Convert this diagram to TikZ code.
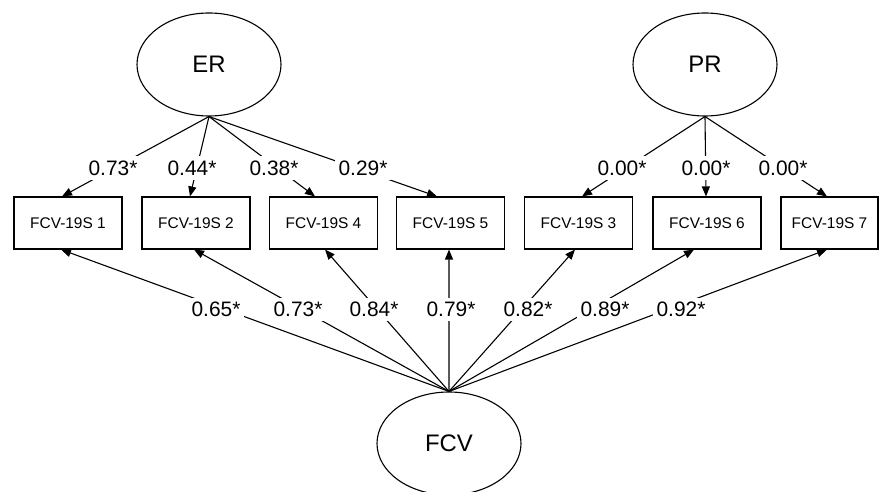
\documentclass[tikz,border=0pt]{standalone}
\usepackage{fontspec}
\setmainfont{Liberation Sans}
\usetikzlibrary{shapes.geometric,arrows.meta}
\begin{document}
\begin{tikzpicture}[x=1bp,y=-1bp,
  lat/.style={ellipse,draw,line width=1.1bp,minimum width=144bp,minimum height=103bp,inner sep=0pt,font=\fontsize{24}{28}\selectfont},
  obs/.style={rectangle,draw,line width=1.1bp,minimum width=108bp,minimum height=52bp,inner sep=0pt,font=\fontsize{15.5}{18}\selectfont},
  ln/.style={line width=1.1bp,-{Triangle[length=10bp,width=8bp]}},
  lbl/.style={fill=white,inner xsep=3.5bp,inner ysep=4.5bp,font=\fontsize{21}{24}\selectfont}]
\useasboundingbox (0,0) rectangle (879,492);
\clip (0,0) rectangle (879,492);
% latent variables
\node[lat] (ER) at (209,64.5) {ER};
\node[lat] (PR) at (705,64.5) {PR};
\node[lat] (FCV) at (449,443.5) {FCV};
% indicators
\node[obs] (b1) at (68,223) {FCV-19S 1};
\node[obs] (b2) at (196,223) {FCV-19S 2};
\node[obs] (b4) at (323.5,223) {FCV-19S 4};
\node[obs] (b5) at (450.5,223) {FCV-19S 5};
\node[obs] (b3) at (578.5,223) {FCV-19S 3};
\node[obs] (b6) at (707,223) {FCV-19S 6};
\node[obs,minimum width=97bp] (b7) at (829.5,223) {FCV-19S 7};
% ER loadings
\draw[ln] (ER.south) -- ([xshift=-6bp]b1.north);
\draw[ln] (ER.south) -- ([xshift=-6bp]b2.north);
\draw[ln] (ER.south) -- ([xshift=-8.5bp]b4.north);
\draw[ln] (ER.south) -- ([xshift=-13.5bp]b5.north);
% PR loadings
\draw[ln] (PR.south) -- ([xshift=3.5bp]b3.north);
\draw[ln] (PR.south) -- ([xshift=-1bp]b6.north);
\draw[ln] (PR.south) -- ([xshift=-2.5bp]b7.north);
% FCV loadings
\draw[ln] (FCV.north) -- ([xshift=-7bp]b1.south);
\draw[ln] (FCV.north) -- ([xshift=-2bp]b2.south);
\draw[ln] (FCV.north) -- ([xshift=1.5bp]b4.south);
\draw[ln] (FCV.north) -- ([xshift=-1.5bp]b5.south);
\draw[ln] (FCV.north) -- ([xshift=-3.5bp]b3.south);
\draw[ln] (FCV.north) -- ([xshift=-13bp]b6.south);
\draw[ln] (FCV.north) -- ([xshift=-2.5bp]b7.south);
% labels
\node[lbl] (e1) at (113,168) {0.73*};
\node[lbl] (e2) at (192,168) {0.44*};
\node[lbl] (e4) at (274,168) {0.38*};
\node[lbl] (e5) at (363,168) {0.29*};
\node[lbl] (p3) at (622,168) {0.00*};
\node[lbl] (p6) at (706,168) {0.00*};
\node[lbl] (p7) at (783,168) {0.00*};
\node[lbl] (f1) at (216,309.5) {0.65*};
\node[lbl] (f2) at (298,309.5) {0.73*};
\node[lbl] (f4) at (374,309.5) {0.84*};
\node[lbl] (f5) at (451,309.5) {0.79*};
\node[lbl] (f3) at (528,309.5) {0.82*};
\node[lbl] (f6) at (605,309.5) {0.89*};
\node[lbl] (f7) at (681,309.5) {0.92*};
\end{tikzpicture}
\end{document}
